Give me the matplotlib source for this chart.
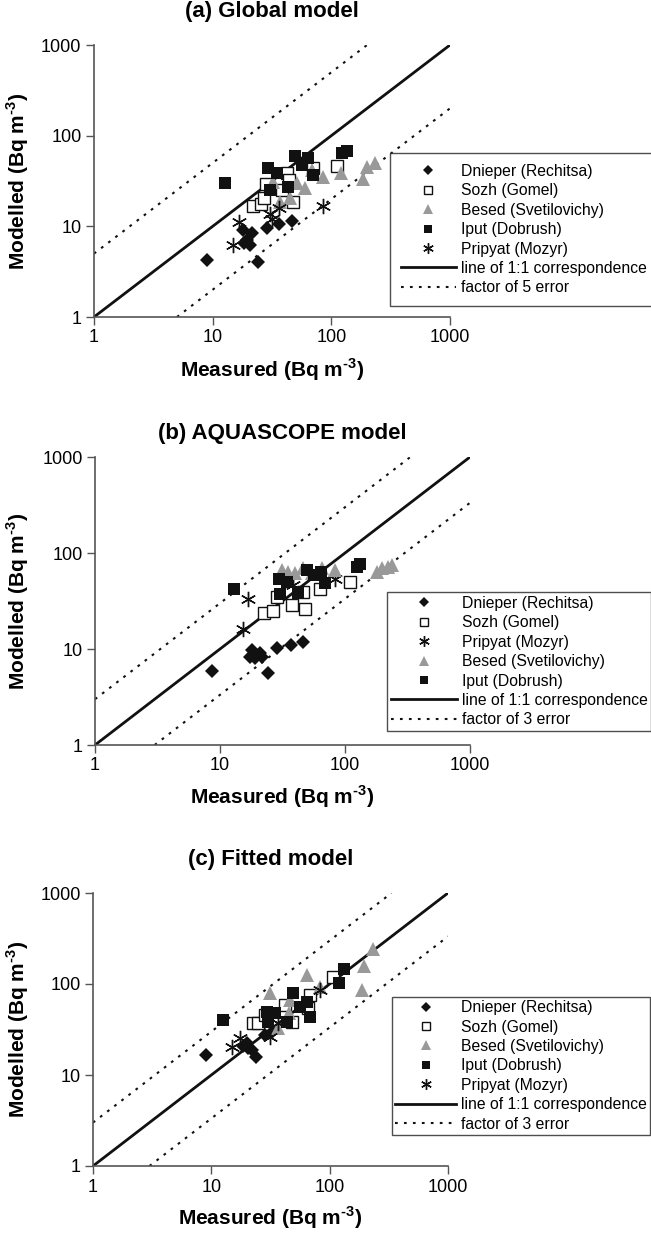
import matplotlib.pyplot as plt
import numpy as np

plt.rcParams['font.family'] = ['Liberation Sans', 'DejaVu Sans']
plt.rcParams['mathtext.fontset'] = 'custom'
plt.rcParams['mathtext.rm'] = 'Liberation Sans:bold'
plt.rcParams['mathtext.bf'] = 'Liberation Sans:bold'

W, H = 651, 1234

# ---- (a) Global model ----
a_dnieper_x = [8.9, 23.9, 17.9, 21.3, 19.3, 20.6, 18.5, 28.5, 36.4, 46.3]
a_dnieper_y = [4.3, 4.07, 9.1, 8.4, 7.1, 6.2, 6.6, 9.7, 10.5, 11.5]
a_sozh_x = [22.0, 25.4, 28.1, 27.0, 42.0, 38.1, 47.8, 69.6, 110.8, 44.2]
a_sozh_y = [16.7, 17.6, 29.3, 20.4, 39.0, 25.1, 18.7, 44.2, 46.2, 32.4]
a_besed_x = [32.0, 36.9, 44.8, 60.0, 51.0, 85.5, 119.7, 68.2, 186, 201, 233]
a_besed_y = [31.0, 18.7, 20.4, 26.2, 29.8, 35.2, 38.4, 41.8, 33.0, 45.4, 50.3]
a_iput_x = [12.7, 29.4, 34.6, 30.4, 42.8, 49.3, 63.9, 56.2, 70.4, 122, 136]
a_iput_y = [30.3, 43.6, 39.0, 25.1, 27.3, 59.6, 56.2, 47.4, 36.8, 64.8, 68.2]
a_pripyat_x = [16.8, 14.9, 30.4, 36.4, 31.4, 84.5]
a_pripyat_y = [11.2, 6.2, 13.7, 15.8, 12.2, 16.9]

# ---- (b) AQUASCOPE model ----
b_dnieper_x = [8.7, 24.4, 17.9, 20.9, 19.0, 21.6, 17.4, 28.4, 36.8, 46.4]
b_dnieper_y = [5.9, 5.6, 9.8, 9.0, 8.0, 8.2, 8.3, 10.2, 11.0, 11.9]
b_sozh_x = [22.5, 26.4, 28.4, 47.9, 46.4, 63.1, 109.6, 37.4]
b_sozh_y = [23.9, 24.9, 35.0, 25.9, 39.5, 41.9, 50.3, 28.7]
b_pripyat_x = [16.9, 15.2, 83.2, 38.6]
b_pripyat_y = [33.2, 16.2, 53.2, 46.4]
b_besed_x = [31.1, 35.2, 39.8, 46.4, 54.0, 65.0, 83.2, 179, 196, 222, 238]
b_besed_y = [66.5, 64.0, 61.4, 69.2, 61.4, 69.2, 66.5, 64.0, 69.2, 72.0, 75.0]
b_iput_x = [12.9, 29.8, 34.2, 30.2, 42.3, 50.0, 56.5, 63.9, 69.2, 124, 133]
b_iput_y = [41.9, 53.2, 50.3, 37.1, 38.6, 66.5, 59.0, 64.0, 49.1, 72.0, 76.8]

# ---- (c) Fitted model ----
c_dnieper_x = [9.1, 18.6, 20.5, 21.9, 23.7, 19.9, 28.4, 32.4]
c_dnieper_y = [16.6, 20.8, 19.6, 18.8, 15.9, 22.3, 27.5, 29.9]
c_sozh_x = [22.6, 25.0, 28.4, 42.0, 47.8, 66.1, 68.3, 107]
c_sozh_y = [37.0, 37.6, 45.6, 58.8, 38.5, 54.1, 75.7, 120]
c_besed_x = [31.3, 36.9, 45.6, 46.3, 64.8, 83.0, 187, 195.5, 234]
c_besed_y = [79.0, 32.6, 47.6, 66.7, 125.6, 93.4, 86.0, 157.7, 240]
c_iput_x = [12.6, 29.4, 30.3, 34.5, 43.4, 49.3, 56.2, 64.0, 68.3, 120.8, 132.5]
c_iput_y = [40.2, 49.6, 38.5, 47.6, 38.5, 79.0, 56.3, 64.0, 43.7, 103, 145]
c_pripyat_x = [14.9, 17.5, 31.3, 36.9, 83.0]
c_pripyat_y = [20.5, 25.3, 26.4, 37.0, 85.9]

ticks = [1, 10, 100, 1000]
tick_labels = ['1', '10', '100', '1000']

styles = {
    'Dnieper (Rechitsa)': dict(marker='D', color='#111111', ms=7, mew=0),
    'Sozh (Gomel)': dict(marker='s', mfc='white', mec='#111111', ms=8.5, mew=1.0),
    'Besed (Svetilovichy)': dict(marker='^', color='#999999', ms=10, mew=0),
    'Iput (Dobrush)': dict(marker='s', color='#111111', ms=8.5, mew=0),
    'Pripyat (Mozyr)': dict(marker=(6, 2, 0), color='#111111', ms=11, mew=1.0),
}

unit = ' (Bq m$^{\\text{-3}}$)'

fig = plt.figure(figsize=(W / 100, H / 100), dpi=100)


def panel(box, title, title_y, xlabel_y, series, factor, leg_left, leg_top,
          bpad, hlen):
    l, r, t, b = box
    ax = fig.add_axes([l / W, 1 - b / H, (r - l) / W, (b - t) / H])
    ax.set_xscale('log')
    ax.set_yscale('log')
    ax.set_xlim(1, 1000)
    ax.set_ylim(1, 1000)
    handles = []
    for name, xs, ys in series:
        h, = ax.plot(xs, ys, linestyle='none', label=name, clip_on=False,
                     zorder=3, **styles[name])
        handles.append(h)
    one = np.array([1, 1000])
    h1, = ax.plot(one, one, color='#111111', lw=2, label='line of 1:1 correspondence')
    up = np.array([1, 1000 / factor])
    lo = np.array([factor, 1000])
    dots = (0, (1.3, 3.0))
    h2, = ax.plot(up, up * factor, color='#111111', lw=1.5, ls=dots,
                  label='factor of %d error' % factor)
    ax.plot(lo, lo / factor, color='#111111', lw=1.5, ls=dots)
    handles += [h1, h2]

    ax.set_xticks(ticks)
    ax.set_xticklabels(tick_labels)
    ax.set_yticks(ticks)
    ax.set_yticklabels(tick_labels)
    ax.minorticks_off()
    ax.tick_params(direction='out', length=6, width=1, color='#555555',
                   labelsize=13, pad=3)
    for s in ['top', 'right']:
        ax.spines[s].set_visible(False)
    for s in ['left', 'bottom']:
        ax.spines[s].set_color('#555555')
        ax.spines[s].set_linewidth(1.2)

    cx = (l + r) / 2
    fig.text(cx / W, 1 - title_y / H, title, ha='center', va='center',
             fontsize=16, fontweight='bold')
    fig.text(cx / W, 1 - xlabel_y / H, 'Measured' + unit,
             ha='center', va='center', fontsize=15, fontweight='bold')
    fig.text(18 / W, 1 - ((t + b) / 2) / H, 'Modelled' + unit,
             ha='center', va='center', rotation=90, fontsize=15, fontweight='bold')

    leg = fig.legend(handles=handles, loc='upper left',
                     bbox_to_anchor=(leg_left / W, 1 - leg_top / H),
                     borderaxespad=0, fontsize=11.3, frameon=True, fancybox=False,
                     handlelength=hlen, handletextpad=0.3, borderpad=bpad,
                     labelspacing=0.28, markerscale=0.7)
    leg.get_frame().set_edgecolor('#222222')
    leg.get_frame().set_linewidth(1.0)
    return ax


panel((94, 450, 45, 317), '(a) Global model', 12, 370,
      [('Dnieper (Rechitsa)', a_dnieper_x, a_dnieper_y),
       ('Sozh (Gomel)', a_sozh_x, a_sozh_y),
       ('Besed (Svetilovichy)', a_besed_x, a_besed_y),
       ('Iput (Dobrush)', a_iput_x, a_iput_y),
       ('Pripyat (Mozyr)', a_pripyat_x, a_pripyat_y)],
      5, 390, 153, 0.7, 3.5)

panel((95, 470, 457, 745), '(b) AQUASCOPE model', 433, 797,
      [('Dnieper (Rechitsa)', b_dnieper_x, b_dnieper_y),
       ('Sozh (Gomel)', b_sozh_x, b_sozh_y),
       ('Pripyat (Mozyr)', b_pripyat_x, b_pripyat_y),
       ('Besed (Svetilovichy)', b_besed_x, b_besed_y),
       ('Iput (Dobrush)', b_iput_x, b_iput_y)],
      3, 387, 592, 0.25, 4.2)

panel((93, 448, 893, 1166), '(c) Fitted model', 860, 1218,
      [('Dnieper (Rechitsa)', c_dnieper_x, c_dnieper_y),
       ('Sozh (Gomel)', c_sozh_x, c_sozh_y),
       ('Besed (Svetilovichy)', c_besed_x, c_besed_y),
       ('Iput (Dobrush)', c_iput_x, c_iput_y),
       ('Pripyat (Mozyr)', c_pripyat_x, c_pripyat_y)],
      3, 392, 997, 0.2, 3.9)

fig.savefig('out.png', dpi=100)
